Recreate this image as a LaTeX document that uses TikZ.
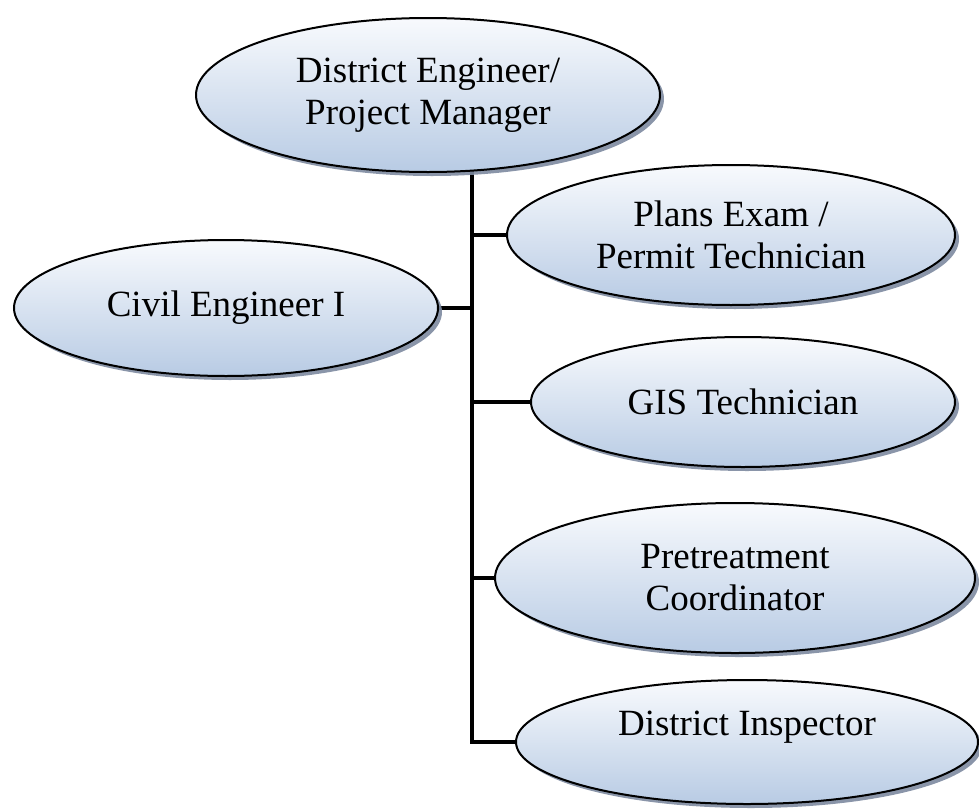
\documentclass[tikz,border=0pt]{standalone}
\usepackage{fontspec}
\setmainfont{Liberation Serif}
\usetikzlibrary{shapes.geometric,shadows,backgrounds}
\definecolor{ovaltop}{RGB}{248,250,253}
\definecolor{ovalbot}{RGB}{184,203,228}
\definecolor{ovalshade}{RGB}{125,138,160}
\begin{document}
\begin{tikzpicture}[x=1pt,y=-1pt,
	oval/.style={ellipse, draw, line width=2pt, inner sep=0pt, align=center,
		top color=ovaltop, bottom color=ovalbot,
		drop shadow={shadow xshift=4pt, shadow yshift=-4pt, fill=ovalshade, opacity=.9},
		font=\fontsize{37}{42}\selectfont},
	conn/.style={line width=3.2pt}]
	\useasboundingbox (0,0) rectangle (979,811);
	%ovals%
	\node[oval, minimum width=464pt, minimum height=154pt] (eng) at (428,95) {District Engineer/\\Project Manager};
	\node[oval, minimum width=448pt, minimum height=140pt] (plans) at (731,235) {Plans Exam /\\Permit Technician};
	\node[oval, minimum width=424pt, minimum height=136pt] (civil) at (226,308) {Civil Engineer I};
	\node[oval, minimum width=424pt, minimum height=130pt] (gis) at (743,402) {GIS Technician};
	\node[oval, minimum width=480pt, minimum height=150pt] (pre) at (735,578) {Pretreatment\\Coordinator};
	\node[oval, minimum width=462pt, minimum height=124pt, text depth=38pt] (insp) at (747,742) {District Inspector};
	\coordinate (trunk) at (472,171);
	\begin{pgfonlayer}{background}
		\draw[conn] (trunk) |- (insp.west);
		\draw[conn] (trunk |- plans.west) -- (plans.west);
		\draw[conn] (trunk |- civil.east) -- ([xshift=-6pt]civil.east);
		\draw[conn] (trunk |- gis.west) -- (gis.west);
		\draw[conn] (trunk |- pre.west) -- (pre.west);
	\end{pgfonlayer}
\end{tikzpicture}
\end{document}
